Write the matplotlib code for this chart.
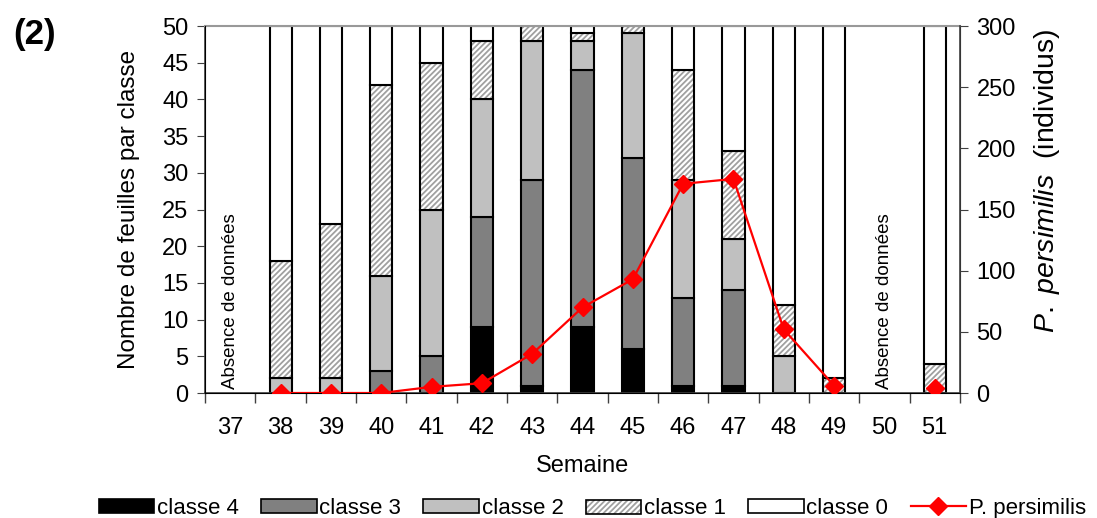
import numpy as np
import matplotlib
matplotlib.use("Agg")
import matplotlib.pyplot as plt
from matplotlib.patches import Patch
from matplotlib.lines import Line2D
from matplotlib.legend_handler import HandlerBase
from matplotlib.patches import Rectangle

plt.rcParams['font.family'] = ['Liberation Sans', 'DejaVu Sans']
plt.rcParams['mathtext.fontset'] = 'custom'
plt.rcParams['mathtext.rm'] = 'Liberation Sans'
plt.rcParams['mathtext.it'] = 'Liberation Sans:italic'
plt.rcParams['hatch.linewidth'] = 1.3

weeks = [37, 38, 39, 40, 41, 42, 43, 44, 45, 46, 47, 48, 49, 50, 51]
classe4 = [0, 0, 0, 0, 0, 9, 1, 9, 6, 1, 1, 0, 0, 0, 0]
classe3 = [0, 0, 0, 3, 5, 15, 28, 35, 26, 12, 13, 0, 0, 0, 0]
classe2 = [0, 2, 2, 13, 20, 16, 19, 4, 17, 16, 7, 5, 0, 0, 0]
classe1 = [0, 16, 21, 26, 20, 8, 2, 1, 1, 15, 12, 7, 2, 0, 4]
classe0 = [0, 32, 27, 8, 5, 2, 0, 1, 0, 6, 17, 38, 48, 0, 46]
persimilis = [np.nan, 0, 0, 0, 5, 8, 32, 70, 93, 171, 175, 52, 6, np.nan, 4]
no_data = [37, 50]

HATCH_COL = '#a0a0a0'


class HatchBox(HandlerBase):
    # hatched legend box with gray hatch and black outline
    def create_artists(self, legend, orig, xd, yd, width, height, fontsize, trans):
        r1 = Rectangle((xd, yd), width, height, facecolor='white', hatch='//////',
                       edgecolor=HATCH_COL, linewidth=0, transform=trans)
        r2 = Rectangle((xd, yd), width, height, fill=False, edgecolor='black',
                       linewidth=1.2, transform=trans)
        return [r1, r2]


fig = plt.figure(figsize=(10.97, 5.18), dpi=100)
ax = fig.add_axes([0.187, 0.2413, 0.688, 0.7085])
x = np.arange(len(weeks))
w = 0.44
bottom = np.zeros(len(weeks))
styles = [
    (classe4, 'black', None, 'classe 4'),
    (classe3, '#808080', None, 'classe 3'),
    (classe2, '#c0c0c0', None, 'classe 2'),
    (classe1, 'white', '//////', 'classe 1'),
    (classe0, 'white', None, 'classe 0'),
]
handles = []
for vals, col, hatch, lab in styles:
    vals = np.array(vals, dtype=float)
    mask = vals > 0
    if hatch:
        ax.bar(x[mask], vals[mask], w, bottom=bottom[mask], color=col, hatch=hatch,
               edgecolor=HATCH_COL, linewidth=0, zorder=2)
    ax.bar(x[mask], vals[mask], w, bottom=bottom[mask], color=col if not hatch else 'none',
           edgecolor='black', linewidth=1.5, zorder=2)
    bottom += vals
    handles.append(Patch(facecolor=col, edgecolor='black', linewidth=1.2, label=lab))

for wk in no_data:
    i = weeks.index(wk)
    ax.text(x[i], 0.5, "Absence de données", rotation=90, ha='center', va='bottom',
            fontsize=13.5)

ax.set_xlim(-0.5, len(weeks) - 0.5)
ax.set_ylim(0, 50)
ax.set_yticks(range(0, 51, 5))
ax.set_xticks(x)
ax.set_xticklabels([str(wk) for wk in weeks])
ax.set_xticks(np.arange(-0.5, len(weeks), 1), minor=True)
ax.tick_params(axis='x', which='major', length=0, pad=17, labelsize=17)
ax.tick_params(axis='x', which='minor', length=7, width=1, color='#404040')
ax.tick_params(axis='y', labelsize=17, length=6, color='#404040', pad=6)
ax.set_xlabel("Semaine", fontsize=17, labelpad=12)
ax.set_ylabel("Nombre de feuilles par classe", fontsize=17.5, labelpad=16)
for s in ['left', 'bottom']:
    ax.spines[s].set_color('#404040')
    ax.spines[s].set_linewidth(1.2)
ax.spines['top'].set_color('#999999')
ax.spines['top'].set_linewidth(1.5)

ax2 = ax.twinx()
ax2.plot(x, persimilis, color='red', lw=1.6, marker='D', markersize=9, zorder=3)
ax2.set_ylim(0, 300)
ax2.set_yticks(range(0, 301, 50))
ax2.tick_params(axis='y', labelsize=17, length=6, color='#404040', pad=6)
ax2.spines['right'].set_color('#404040')
ax2.spines['right'].set_linewidth(1.2)
ax2.spines['top'].set_visible(False)
ax2.set_ylabel(r"$\it{P.\ persimilis}$  (individus)", fontsize=20.5)
ax2.yaxis.set_label_coords(1.095, 0.578)

handles[3] = Patch(label='classe 1')
handles.append(Line2D([0], [0], color='red', lw=1.6, marker='D', markersize=9, label='P. persimilis'))
fig.legend(handles=handles, loc='lower center', ncol=6, frameon=False, fontsize=16,
           bbox_to_anchor=(0.54, -0.04), handlelength=2.5, handleheight=0.6,
           handletextpad=0.12, columnspacing=1.0, handler_map={handles[3]: HatchBox()})

fig.text(0.012, 0.915, "(2)", fontsize=25, fontweight='bold')

fig.savefig("out.png", dpi=100)
